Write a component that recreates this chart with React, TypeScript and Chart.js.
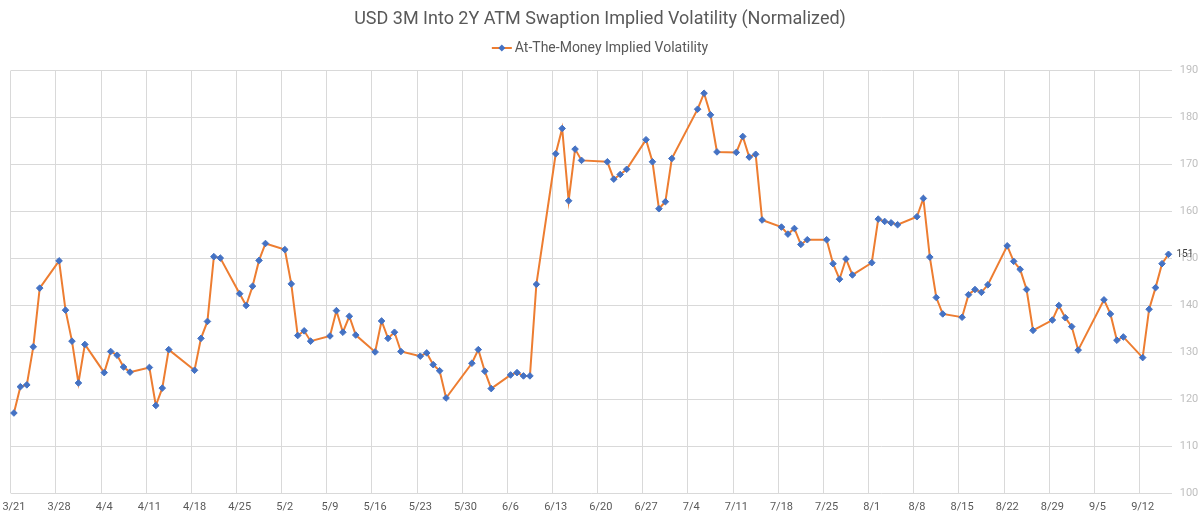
import React, { useEffect, useRef } from "react";
import { Chart, registerables } from "chart.js";

Chart.register(...registerables);

const TITLE = "USD 3M Into 2Y ATM Swaption Implied Volatility (Normalized)";
const SERIES_NAME = "At-The-Money Implied Volatility";
const YEAR = 2022;
const START_DATE = "3/21";
const END_DATE = "9/16";

const tradeDates: string[] = [
  "3/21", "3/22", "3/23", "3/24", "3/25",
  "3/28", "3/29", "3/30", "3/31", "4/1",
  "4/4", "4/5", "4/6", "4/7", "4/8",
  "4/11", "4/12", "4/13", "4/14",
  "4/18", "4/19", "4/20", "4/21", "4/22",
  "4/25", "4/26", "4/27", "4/28", "4/29",
  "5/2", "5/3", "5/4", "5/5", "5/6",
  "5/9", "5/10", "5/11", "5/12", "5/13",
  "5/16", "5/17", "5/18", "5/19", "5/20",
  "5/23", "5/24", "5/25", "5/26", "5/27",
  "5/31", "6/1", "6/2", "6/3",
  "6/6", "6/7", "6/8", "6/9", "6/10",
  "6/13", "6/14", "6/15", "6/16", "6/17",
  "6/21", "6/22", "6/23", "6/24",
  "6/27", "6/28", "6/29", "6/30", "7/1",
  "7/5", "7/6", "7/7", "7/8",
  "7/11", "7/12", "7/13", "7/14", "7/15",
  "7/18", "7/19", "7/20", "7/21", "7/22",
  "7/25", "7/26", "7/27", "7/28", "7/29",
  "8/1", "8/2", "8/3", "8/4", "8/5",
  "8/8", "8/9", "8/10", "8/11", "8/12",
  "8/15", "8/16", "8/17", "8/18", "8/19",
  "8/22", "8/23", "8/24", "8/25", "8/26",
  "8/29", "8/30", "8/31", "9/1", "9/2",
  "9/6", "9/7", "9/8", "9/9",
  "9/12", "9/13", "9/14", "9/15", "9/16",
];

const impliedVol: number[] = [
  117.1, 122.7, 123.1, 131.2, 143.7,
  149.5, 139.0, 132.4, 123.5, 131.7,
  125.7, 130.2, 129.4, 126.9, 125.8,
  126.8, 118.7, 122.4, 130.6,
  126.2, 133.0, 136.6, 150.4, 150.1,
  142.5, 140.0, 144.1, 149.6, 153.2,
  151.9, 144.6, 133.6, 134.6, 132.4,
  133.5, 138.9, 134.3, 137.7, 133.7,
  130.1, 136.7, 133.0, 134.3, 130.2,
  129.2, 129.9, 127.4, 126.1, 120.3,
  127.7, 130.6, 126.0, 122.3,
  125.2, 125.7, 125.0, 125.0, 144.5,
  172.3, 177.7, 162.3, 173.3, 170.9,
  170.6, 166.9, 167.9, 169.0,
  175.3, 170.6, 160.6, 162.1, 171.3,
  181.8, 185.2, 180.6, 172.7,
  172.6, 176.0, 171.6, 172.2, 158.2,
  156.7, 155.2, 156.4, 153.0, 154.0,
  154.0, 148.9, 145.6, 149.9, 146.5,
  149.1, 158.4, 157.9, 157.6, 157.2,
  158.9, 162.8, 150.3, 141.7, 138.2,
  137.5, 142.3, 143.4, 142.8, 144.4,
  152.7, 149.4, 147.7, 143.4, 134.7,
  136.9, 140.0, 137.4, 135.5, 130.5,
  141.2, 138.2, 132.6, 133.3,
  128.9, 139.2, 143.8, 148.9, 150.9,
];

const yTicks = { min: 100, max: 190, step: 10 };

const FONT = "Roboto, 'Noto Sans', sans-serif";

function parseMD(s: string): Date {
  const [m, d] = s.split("/").map(Number);
  return new Date(YEAR, m - 1, d);
}

function buildCalendar() {
  const start = parseMD(START_DATE);
  const end = parseMD(END_DATE);
  const labels: string[] = [];
  const mondays: boolean[] = [];
  const d = new Date(start);
  while (d <= end) {
    labels.push(`${d.getMonth() + 1}/${d.getDate()}`);
    mondays.push(d.getDay() === 1);
    d.setDate(d.getDate() + 1);
  }
  return { labels, mondays };
}

export default function App() {
  const ref = useRef<HTMLCanvasElement | null>(null);

  useEffect(() => {
    document.body.style.margin = "0";
    const canvas = ref.current;
    if (!canvas) return;

    const { labels, mondays } = buildCalendar();
    const valueByDate = new Map<string, number>();
    tradeDates.forEach((dt, i) => valueByDate.set(dt, impliedVol[i]));
    const data = labels.map((l) => (valueByDate.has(l) ? (valueByDate.get(l) as number) : null));

    const headerPlugin = {
      id: "header",
      afterDraw(chart: any) {
        const ctx = chart.ctx as CanvasRenderingContext2D;
        const cx = chart.width / 2;
        ctx.save();
        ctx.fillStyle = "#595959";
        ctx.font = `18px ${FONT}`;
        ctx.textAlign = "center";
        ctx.textBaseline = "middle";
        ctx.fillText(TITLE, cx, 19);

        ctx.font = `14px ${FONT}`;
        const tw = ctx.measureText(SERIES_NAME).width;
        const lineW = 20;
        const gap = 3;
        const total = lineW + gap + tw;
        const x0 = cx - total / 2;
        const ly = 48;
        ctx.strokeStyle = "#ED7D31";
        ctx.lineWidth = 2;
        ctx.beginPath();
        ctx.moveTo(x0, ly);
        ctx.lineTo(x0 + lineW, ly);
        ctx.stroke();
        ctx.fillStyle = "#4472C4";
        const mx = x0 + lineW / 2;
        const r = 3.5;
        ctx.beginPath();
        ctx.moveTo(mx, ly - r);
        ctx.lineTo(mx + r, ly);
        ctx.lineTo(mx, ly + r);
        ctx.lineTo(mx - r, ly);
        ctx.closePath();
        ctx.fill();
        ctx.fillStyle = "#595959";
        ctx.textAlign = "left";
        ctx.fillText(SERIES_NAME, x0 + lineW + gap, ly + 0.5);
        ctx.restore();
      },
    };

    const lastLabelPlugin = {
      id: "lastLabel",
      afterDatasetsDraw(chart: any) {
        const meta = chart.getDatasetMeta(0);
        const ds = chart.data.datasets[0].data as (number | null)[];
        let idx = ds.length - 1;
        while (idx >= 0 && ds[idx] == null) idx--;
        if (idx < 0) return;
        const pt = meta.data[idx];
        const ctx = chart.ctx as CanvasRenderingContext2D;
        ctx.save();
        ctx.fillStyle = "#404040";
        ctx.font = `10px ${FONT}`;
        ctx.textAlign = "left";
        ctx.textBaseline = "middle";
        ctx.fillText(String(Math.round(ds[idx] as number)), pt.x + 8, pt.y);
        ctx.restore();
      },
    };

    const chart = new Chart(canvas, {
      type: "line",
      data: {
        labels,
        datasets: [
          {
            label: SERIES_NAME,
            data,
            spanGaps: true,
            borderColor: "#ED7D31",
            borderWidth: 2,
            tension: 0,
            pointStyle: "rectRot",
            pointRadius: 3.3,
            pointBackgroundColor: "#4472C4",
            pointBorderColor: "#4472C4",
            pointBorderWidth: 1,
          },
        ],
      },
      options: {
        responsive: false,
        animation: false,
        events: [],
        layout: { padding: { top: 70.7, left: 10.7, right: 0, bottom: 0 } },
        plugins: {
          legend: { display: false },
          title: { display: false },
          tooltip: { enabled: false },
        },
        scales: {
          x: {
            type: "category",
            offset: true,
            grid: {
              offset: true,
              drawTicks: false,
              lineWidth: 1,
              color: (c: any) =>
                typeof c.index === "number" && mondays[c.index] ? "#d9d9d9" : "rgba(0,0,0,0)",
            },
            border: { display: false },
            ticks: {
              autoSkip: false,
              maxRotation: 0,
              minRotation: 0,
              padding: 7,
              color: "#595959",
              font: { family: FONT, size: 11 },
              callback: (_v: any, i: number) => (mondays[i] ? labels[i] : ""),
            },
            afterFit: (s: any) => {
              s.height = 23.7;
              s.paddingLeft = 0;
              s.paddingRight = 0;
            },
          },
          y: {
            position: "right",
            min: yTicks.min,
            max: yTicks.max,
            ticks: {
              stepSize: yTicks.step,
              color: "#bfbfbf",
              padding: 8,
              font: { family: FONT, size: 11 },
            },
            grid: { color: "#d9d9d9", drawTicks: false, lineWidth: 1 },
            border: { display: false },
            afterFit: (s: any) => {
              s.width = 28.3;
              s.paddingTop = 0;
              s.paddingBottom = 0;
            },
          },
        },
      },
      plugins: [headerPlugin, lastLabelPlugin],
    });

    return () => {
      chart.destroy();
    };
  }, []);

  return (
    <div style={{ width: 1200, height: 517, background: "#ffffff" }}>
      <canvas ref={ref} width={1200} height={517} style={{ display: "block" }} />
    </div>
  );
}
